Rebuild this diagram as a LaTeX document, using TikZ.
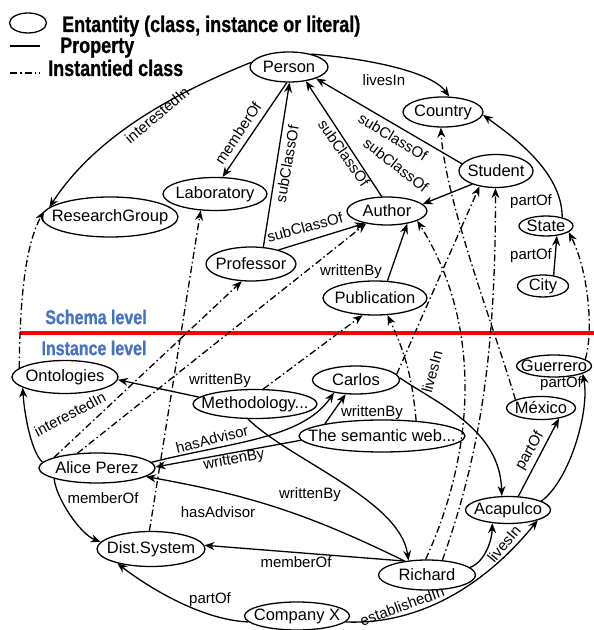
\documentclass[tikz,border=0pt]{standalone}
\usepackage{fontspec}
\setmainfont{Liberation Sans}
\newfontfamily\legfont[FakeStretch=0.8, FakeBold=0.8]{Liberation Sans Bold}
\usetikzlibrary{shapes.geometric,arrows.meta}
\newcommand\etxt[1]{\makebox[0pt]{#1}}
\definecolor{levelblue}{HTML}{4472C4}

\begin{document}
\begin{tikzpicture}[x=1pt,y=1pt,
  ent/.style={ellipse, draw, line width=1.3pt, inner sep=0pt, font=\fontsize{16.5}{18}\selectfont},
  sz/.style 2 args={minimum width=#1, minimum height=#2},
  lbl/.style={font=\fontsize{15}{16}\selectfont, inner sep=0.5pt},
  rel/.style={line width=1.3pt, -{Stealth[length=10pt,width=8pt]}},
  inst/.style={rel, dash pattern=on 7pt off 3pt on 1.5pt off 3pt},
  legtext/.style={font=\legfont\fontsize{22.5}{24}\selectfont, anchor=base west, inner sep=0pt},
  lvl/.style={font=\legfont\fontsize{20}{21}\selectfont, text=levelblue, inner sep=0pt}
]
\useasboundingbox (0,0) rectangle (594,630);

% legend
\node[ent, sz={37pt}{20pt}] (legE) at (28,607) {};
\node[legtext] (legEt) at (62,598) {Entantity (class, instance or literal)};
\coordinate (legPa) at (10,584);
\coordinate (legPb) at (40,584);
\draw[line width=1.3pt] (legPa) -- (legPb);
\node[legtext] (legPt) at (60,577) {Property};
\coordinate (legIa) at (10,557);
\coordinate (legIb) at (40,557);
\draw[line width=1.3pt, dash pattern=on 7pt off 3pt on 1.5pt off 3pt] (legIa) -- (legIb);
\node[legtext] (legIt) at (48,554) {Instantied class};

% separation between the two levels
\coordinate (sepL) at (20,297);
\coordinate (sepR) at (594,297);
\draw[red, line width=3.2pt] (sepL) -- (sepR);
\node[lvl] (schema) at (96,313) {Schema level};
\node[lvl] (instance) at (94,282) {Instance level};

% schema level classes
\node[ent, sz={78pt}{30pt}] (person) at (289,563) {\etxt{Person}};
\node[ent, sz={80pt}{30pt}] (country) at (443,518) {\etxt{Country}};
\node[ent, sz={74pt}{33pt}] (student) at (496,459) {\etxt{Student}};
\node[ent, sz={80pt}{28pt}] (author) at (387,419) {\etxt{Author}};
\node[ent, sz={54pt}{20pt}] (state) at (546,404) {\etxt{State}};
\node[ent, sz={51pt}{22pt}] (city) at (543,344) {\etxt{City}};
\node[ent, sz={104pt}{33pt}] (lab) at (215,436) {\etxt{Laboratory}};
\node[ent, sz={136pt}{40pt}] (rgroup) at (110,413) {\etxt{ResearchGroup}};
\node[ent, sz={90pt}{34pt}] (prof) at (251,366) {\etxt{Professor}};
\node[ent, sz={104pt}{34pt}] (pub) at (375,332) {\etxt{Publication}};

% instance level entities
\node[ent, sz={106pt}{33pt}] (onto) at (65,253) {\etxt{Ontologies}};
\node[ent, sz={124pt}{29pt}] (meth) at (255,226) {\etxt{Methodology...}};
\node[ent, sz={87pt}{28pt}] (carlos) at (356,250) {\etxt{Carlos}};
\node[ent, sz={166pt}{32pt}] (semweb) at (382,194) {\etxt{The semantic web...}};
\node[ent, sz={75pt}{22pt}] (guerrero) at (554,264) {\etxt{Guerrero}};
\node[ent, sz={69pt}{23pt}] (mexico) at (541,222) {\etxt{México}};
\node[ent, sz={85pt}{27pt}] (acapulco) at (508,120) {\etxt{Acapulco}};
\node[ent, sz={116pt}{30pt}] (alice) at (97,162) {\etxt{Alice Perez}};
\node[ent, sz={108pt}{35pt}] (dist) at (151,81) {\etxt{Dist.System}};
\node[ent, sz={97pt}{30pt}] (richard) at (427,55) {\etxt{Richard}};
\node[ent, sz={105pt}{28pt}] (company) at (297,14) {\etxt{Company X}};

% schema level properties
\draw[rel] (person.173) .. controls (155,529) and (90,485) .. (rgroup.171);
\node[lbl, rotate=40] (l1) at (157,515) {interestedIn};
\draw[rel] (person.262) -- (lab.66);
\node[lbl, rotate=56] (l2) at (238,497) {memberOf};
\draw[rel] (prof.54) -- (person.272);
\node[lbl, rotate=80] (l3) at (287,466) {subClassOf};
\draw[rel] (prof.27) -- (author.209);
\node[lbl, rotate=15] (l4) at (305,403) {subClassOf};
\draw[rel] (author.110) -- (person.320);
\node[lbl, rotate=-55] (l5) at (344,477) {subClassOf};
\draw[rel] (student.168) -- (person.337);
\node[lbl, rotate=-31] (l6) at (393,493) {subClassOf};
\draw[rel] (student.209) -- (author.11);
\node[lbl, rotate=-38] (l7) at (396,465) {subClassOf};
\draw[rel] (pub.54) -- (author.328);
\node[lbl] (l26) at (351,358) {writtenBy};
\draw[rel] (person.30) .. controls (360,572) and (430,560) .. (country.68);
\node[lbl] (l8) at (384,550) {livesIn};
\draw[rel] (state.28) .. controls (562,460) and (510,495) .. (country.356);
\node[lbl] (l9) at (531,428) {partOf};
\draw[rel] (city.45) -- (state.-42);
\node[lbl] (l10) at (531,374) {partOf};

% instance level properties
\draw[rel] (meth.173) -- (onto.357);
\node[lbl] (l11) at (220,249) {writtenBy};
\draw[rel] (alice.6) .. controls (232,188) and (302,191) .. (carlos.210);
\node[lbl, rotate=14] (l12) at (212,191) {hasAdvisor};
\draw[rel] (semweb.183) -- (alice.1);
\node[lbl, rotate=10] (l13) at (234,170) {writtenBy};
\draw[rel] (semweb.168) -- (carlos.234);
\node[lbl] (l14) at (372,217) {writtenBy};
\draw[rel] (meth.245) .. controls (290,170) and (400,130) .. (richard.142);
\node[lbl] (l15) at (310,135) {writtenBy};
\draw[rel] (richard.148) to[bend right=8] (alice.350);
\node[lbl] (l16) at (218,118) {hasAdvisor};
\draw[rel] (richard.148) -- (dist.4);
\node[lbl] (l17) at (296,68) {memberOf};
\draw[rel] (alice.194) .. controls (56,132) and (80,96) .. (dist.172);
\node[lbl] (l18) at (103,132) {memberOf};
\draw[rel] (alice.174) .. controls (30,180) and (24,220) .. (onto.194);
\node[lbl, rotate=28] (l19) at (70,216) {interestedIn};
\draw[rel] (carlos.3) .. controls (440,225) and (500,200) .. (acapulco.114);
\node[lbl, rotate=75] (l20) at (432,258) {livesIn};
\draw[rel] (acapulco.53) -- (mexico.330);
\node[lbl, rotate=60] (l21) at (530,179) {partOf};
\draw[rel] (acapulco.15) .. controls (570,150) and (590,220) .. (guerrero.-15);
\node[lbl] (l22) at (561,246) {partOf};
\draw[rel] (richard.10) .. controls (485,68) and (492,90) .. (acapulco.220);
\node[lbl, rotate=50] (l23) at (504,86) {livesIn};
\draw[rel] (company.-7) .. controls (420,5) and (485,45) .. (acapulco.341);
\node[lbl, rotate=20] (l24) at (402,24) {establishedIn};
\draw[rel] (company.187) .. controls (200,10) and (145,45) .. (dist.203);
\node[lbl] (l25) at (210,30) {partOf};

% instantiation links
\draw[inst] (onto.169) .. controls (20,330) and (25,385) .. (rgroup.175);
\draw[inst] (dist.95) -- (lab.229);
\draw[inst] (alice.166) -- (prof.242);
\draw[inst] (alice.143) -- (author.211);
\draw[inst] (meth.61) -- (pub.234);
\draw[inst] (semweb.24) to[bend right=10] (pub.306);
\draw[inst] (carlos.8) -- (student.223);
\draw[inst] (richard.95) .. controls (478,185) and (480,310) .. (author.342);
\draw[inst] (richard.44) .. controls (478,170) and (496,270) .. (student.268);
\draw[inst] (mexico.162) .. controls (495,300) and (445,430) .. (country.262);
\draw[inst] (guerrero.12) .. controls (594,300) and (588,360) .. (state.-15);
\end{tikzpicture}
\end{document}
